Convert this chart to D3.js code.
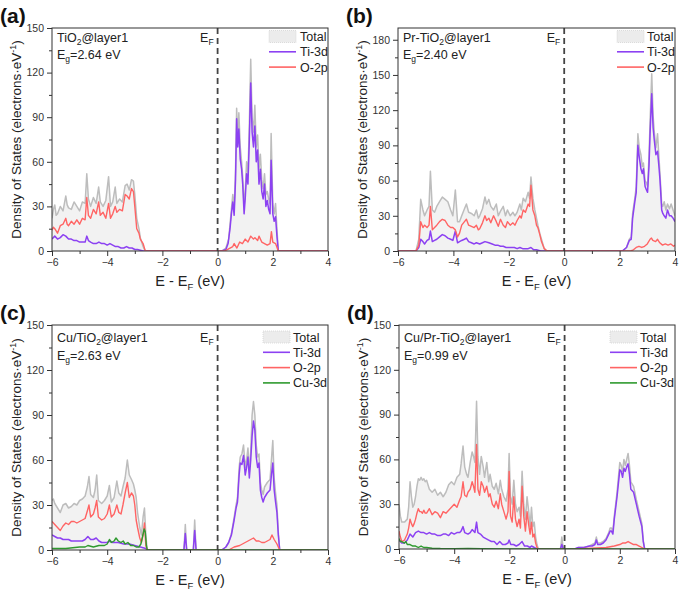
<!DOCTYPE html>
<html><head><meta charset="utf-8">
<script src="https://cdn.jsdelivr.net/npm/d3@7"></script>
<style>
body{margin:0;background:#fff;}
svg{display:block;font-family:"Liberation Sans",Arial,sans-serif;}
</style></head>
<body>
<svg id="chart" width="680" height="591"></svg>
<script>
// ---------- DATA (energy eV, DOS electrons/eV) ----------
const xTicks = [-6,-4,-2,0,2,4];
const yTicksA = [0,30,60,90,120,150];
const yTicksB = [0,30,60,90,120,150,180];
const panelLabels = ["(a)","(b)","(c)","(d)"];
const systemNames = [["TiO","2","@layer1"],["Pr-TiO","2","@layer1"],["Cu/TiO","2","@layer1"],["Cu/Pr-TiO","2","@layer1"]];
const gapValues = ["2.64","2.40","2.63","0.99"];
const seriesNames = ["Total","Ti-3d","O-2p","Cu-3d"];

const aTotal=[[-6,22],[-5.95,28],[-5.9,31],[-5.85,24],[-5.8,25],[-5.7,30],[-5.6,27],[-5.5,37],[-5.45,31],[-5.4,29],[-5.3,28],[-5.2,33],[-5.1,30],[-5.0,27],[-4.9,33],[-4.8,32],[-4.74,52],[-4.68,35],[-4.6,30],[-4.5,36],[-4.4,32],[-4.31,43],[-4.25,33],[-4.15,30],[-4.05,34],[-3.95,50],[-3.88,30],[-3.8,33],[-3.71,43],[-3.65,32],[-3.55,35],[-3.45,33],[-3.35,44],[-3.28,45],[-3.2,41],[-3.12,48],[-3.05,47],[-3.0,38],[-2.93,22],[-2.85,15],[-2.8,9],[-2.7,3],[-2.62,0],[0.15,0],[0.3,2],[0.4,8],[0.45,18],[0.5,28],[0.55,38],[0.6,28],[0.65,55],[0.69,96],[0.73,75],[0.77,93],[0.82,70],[0.87,60],[0.91,50],[0.96,30],[1.0,40],[1.05,60],[1.1,52],[1.15,85],[1.2,129],[1.25,90],[1.3,80],[1.35,98],[1.4,70],[1.45,78],[1.5,55],[1.55,65],[1.6,48],[1.65,42],[1.7,52],[1.75,38],[1.8,40],[1.85,35],[1.9,32],[1.94,79],[2.0,32],[2.05,25],[2.1,32],[2.15,15],[2.2,0],[4,0]];
const aTi=[[-6,8],[-5.9,10],[-5.8,8],[-5.7,9],[-5.6,11],[-5.5,10],[-5.4,8],[-5.3,8],[-5.2,7],[-5.1,7],[-5.0,6],[-4.9,6],[-4.8,6],[-4.74,10],[-4.68,7],[-4.6,6],[-4.5,5],[-4.4,5],[-4.3,6],[-4.2,5],[-4.1,5],[-4.0,4],[-3.9,5],[-3.8,4],[-3.7,3],[-3.6,3],[-3.5,2],[-3.4,2],[-3.3,3],[-3.2,2],[-3.1,2],[-3.0,1],[-2.9,1],[-2.8,0.5],[-2.7,0],[0.15,0],[0.3,1],[0.38,5],[0.45,15],[0.5,25],[0.55,33],[0.6,24],[0.65,48],[0.69,89],[0.73,70],[0.77,82],[0.82,62],[0.87,55],[0.91,45],[0.96,25],[1.0,35],[1.05,52],[1.1,45],[1.15,75],[1.2,113],[1.25,80],[1.3,70],[1.35,84],[1.4,60],[1.45,68],[1.5,45],[1.55,55],[1.6,40],[1.65,35],[1.7,45],[1.75,30],[1.8,34],[1.85,28],[1.9,25],[1.94,61],[2.0,25],[2.05,20],[2.1,23],[2.15,10],[2.2,0],[4,0]];
const aO=[[-6,14],[-5.95,16],[-5.9,15],[-5.8,12],[-5.7,17],[-5.6,18],[-5.5,22],[-5.45,18],[-5.4,17],[-5.3,20],[-5.2,18],[-5.1,21],[-5.0,18],[-4.9,22],[-4.8,21],[-4.74,36],[-4.68,24],[-4.6,22],[-4.5,28],[-4.4,25],[-4.31,33],[-4.25,24],[-4.15,26],[-4.05,22],[-3.95,32],[-3.88,22],[-3.8,25],[-3.71,30],[-3.65,26],[-3.55,28],[-3.45,27],[-3.35,38],[-3.28,37],[-3.2,35],[-3.12,42],[-3.05,40],[-3.0,30],[-2.93,15],[-2.85,12],[-2.8,8],[-2.7,5],[-2.62,0],[0.25,0],[0.35,1],[0.45,2],[0.55,3],[0.6,5],[0.7,2],[0.8,6],[0.9,5],[1.0,8],[1.1,6],[1.2,10],[1.3,8],[1.35,9],[1.45,7],[1.5,10],[1.6,6],[1.7,5],[1.8,4],[1.9,5],[1.95,13],[2.0,6],[2.1,5],[2.2,0],[4,0]];

const bTotal=[[-6,0],[-5.35,0],[-5.25,10],[-5.18,44],[-5.1,35],[-5.04,30],[-4.95,35],[-4.88,38],[-4.83,68],[-4.76,35],[-4.68,33],[-4.6,38],[-4.5,42],[-4.4,46],[-4.3,44],[-4.2,42],[-4.1,35],[-4.02,30],[-3.93,52],[-3.85,25],[-3.78,25],[-3.7,30],[-3.6,36],[-3.53,40],[-3.45,33],[-3.35,32],[-3.25,30],[-3.17,35],[-3.1,28],[-3.05,30],[-2.95,36],[-2.86,46],[-2.8,40],[-2.72,44],[-2.65,38],[-2.55,35],[-2.45,40],[-2.38,30],[-2.3,34],[-2.2,38],[-2.12,30],[-2.05,35],[-1.95,30],[-1.85,33],[-1.78,30],[-1.7,33],[-1.6,40],[-1.55,35],[-1.48,45],[-1.4,42],[-1.3,50],[-1.25,45],[-1.2,63],[-1.13,45],[-1.06,35],[-1.0,28],[-0.95,22],[-0.88,15],[-0.82,10],[-0.72,2],[-0.62,0],[2.1,0],[2.25,3],[2.35,10],[2.42,12],[2.47,32],[2.55,45],[2.6,55],[2.66,100],[2.71,88],[2.77,82],[2.82,72],[2.86,75],[2.92,60],[2.97,58],[3.01,55],[3.06,80],[3.1,110],[3.16,151],[3.21,115],[3.25,102],[3.31,88],[3.37,100],[3.42,80],[3.46,65],[3.52,40],[3.56,38],[3.61,42],[3.67,35],[3.73,40],[3.8,36],[3.86,40],[3.93,35],[4.0,30]];
const bTi=[[-6,0],[-5.35,0],[-5.25,3],[-5.18,10],[-5.1,8],[-5.04,6],[-4.95,9],[-4.88,10],[-4.83,17],[-4.76,8],[-4.68,9],[-4.6,10],[-4.5,12],[-4.4,14],[-4.3,13],[-4.2,11],[-4.1,10],[-4.02,9],[-3.93,17],[-3.85,7],[-3.78,8],[-3.7,9],[-3.6,10],[-3.53,11],[-3.45,8],[-3.35,7],[-3.25,6],[-3.17,7],[-3.05,6],[-2.95,7],[-2.86,8],[-2.72,7],[-2.6,6],[-2.5,5],[-2.4,5],[-2.3,4],[-2.2,4],[-2.1,3],[-2.0,3],[-1.9,3],[-1.8,3],[-1.7,2],[-1.6,3],[-1.5,2],[-1.4,2],[-1.3,2],[-1.2,3],[-1.1,1],[-1.0,1],[-0.85,0],[2.1,0],[2.25,3],[2.35,9],[2.42,10],[2.47,28],[2.55,42],[2.6,50],[2.66,90],[2.71,80],[2.77,70],[2.82,66],[2.86,70],[2.92,55],[2.97,52],[3.01,50],[3.06,72],[3.1,100],[3.16,134],[3.21,105],[3.25,95],[3.31,82],[3.37,85],[3.42,72],[3.46,60],[3.52,35],[3.56,32],[3.61,30],[3.67,28],[3.73,35],[3.8,30],[3.86,30],[3.93,28],[4.0,25]];
const bO=[[-6,0],[-5.35,0],[-5.25,5],[-5.18,25],[-5.1,20],[-5.04,22],[-4.95,20],[-4.88,22],[-4.83,38],[-4.76,18],[-4.68,20],[-4.6,22],[-4.5,25],[-4.4,27],[-4.3,26],[-4.2,22],[-4.1,20],[-4.02,20],[-3.93,18],[-3.85,12],[-3.78,15],[-3.7,22],[-3.6,25],[-3.53,27],[-3.45,22],[-3.35,21],[-3.25,20],[-3.17,22],[-3.1,18],[-3.05,19],[-2.95,24],[-2.86,30],[-2.8,26],[-2.72,28],[-2.65,24],[-2.55,30],[-2.45,25],[-2.38,21],[-2.3,27],[-2.2,22],[-2.12,20],[-2.05,25],[-1.95,22],[-1.85,24],[-1.78,22],[-1.7,26],[-1.6,30],[-1.55,28],[-1.48,35],[-1.4,33],[-1.3,40],[-1.25,38],[-1.2,56],[-1.13,35],[-1.06,30],[-1.0,22],[-0.95,20],[-0.88,14],[-0.82,8],[-0.72,2],[-0.62,0],[2.4,0],[2.5,1],[2.6,3],[2.7,4],[2.8,3],[2.9,4],[3.0,6],[3.1,10],[3.15,11],[3.2,9],[3.3,8],[3.37,10],[3.45,7],[3.55,5],[3.65,6],[3.75,5],[3.85,6],[3.95,4],[4.0,5]];

const cTotal=[[-6,33],[-5.95,34],[-5.9,31],[-5.8,28],[-5.7,25],[-5.6,30],[-5.5,31],[-5.4,28],[-5.3,29],[-5.2,31],[-5.1,30],[-5.0,33],[-4.9,34],[-4.8,36],[-4.72,42],[-4.66,49],[-4.6,37],[-4.5,35],[-4.44,40],[-4.38,50],[-4.32,33],[-4.2,31],[-4.1,33],[-4.0,36],[-3.92,43],[-3.85,32],[-3.75,35],[-3.65,46],[-3.58,38],[-3.5,36],[-3.43,42],[-3.35,48],[-3.27,60],[-3.2,50],[-3.12,47],[-3.05,44],[-3.0,40],[-2.95,35],[-2.9,25],[-2.82,15],[-2.76,10],[-2.7,22],[-2.65,28],[-2.6,10],[-2.55,0],[-1.22,0],[-1.17,17],[-1.12,0],[-0.88,0],[-0.83,20],[-0.78,0],[0.15,0],[0.3,2],[0.4,5],[0.5,11],[0.6,22],[0.67,30],[0.72,35],[0.78,55],[0.82,62],[0.88,64],[0.94,70],[1.0,55],[1.05,60],[1.1,68],[1.15,52],[1.2,66],[1.25,90],[1.3,99],[1.35,90],[1.4,70],[1.45,62],[1.5,64],[1.55,45],[1.6,40],[1.65,37],[1.7,42],[1.8,45],[1.9,47],[1.95,60],[2.0,73],[2.05,48],[2.1,38],[2.15,30],[2.2,12],[2.25,0],[4,0]];
const cTi=[[-6,10],[-5.9,9],[-5.8,8],[-5.7,8],[-5.6,7],[-5.5,7],[-5.4,7],[-5.3,6],[-5.2,6],[-5.0,6],[-4.9,6],[-4.8,7],[-4.7,9],[-4.6,7],[-4.5,7],[-4.4,8],[-4.3,6],[-4.2,5],[-4.0,5],[-3.9,6],[-3.8,5],[-3.6,5],[-3.4,4],[-3.2,4],[-3.0,3],[-2.8,2],[-2.6,1],[-2.55,0],[-1.22,0],[-1.17,11],[-1.12,0],[-0.88,0],[-0.83,13],[-0.78,0],[0.15,0],[0.3,2],[0.4,5],[0.5,10],[0.6,20],[0.67,28],[0.72,32],[0.78,50],[0.82,58],[0.88,57],[0.94,63],[1.0,50],[1.05,55],[1.1,62],[1.15,48],[1.2,60],[1.25,76],[1.3,86],[1.35,80],[1.4,62],[1.45,55],[1.5,58],[1.55,40],[1.6,35],[1.65,32],[1.7,35],[1.8,38],[1.9,40],[1.95,50],[2.0,58],[2.05,40],[2.1,32],[2.15,25],[2.2,10],[2.25,0],[4,0]];
const cO=[[-6,19],[-5.9,17],[-5.8,15],[-5.7,13],[-5.6,16],[-5.5,18],[-5.4,17],[-5.3,19],[-5.2,19],[-5.1,18],[-5.0,19],[-4.9,20],[-4.8,21],[-4.72,26],[-4.66,30],[-4.6,22],[-4.5,24],[-4.44,28],[-4.38,33],[-4.32,22],[-4.2,20],[-4.1,21],[-4.0,24],[-3.92,30],[-3.85,22],[-3.75,24],[-3.65,30],[-3.58,25],[-3.5,24],[-3.43,30],[-3.35,38],[-3.27,45],[-3.2,35],[-3.12,38],[-3.05,36],[-3.0,30],[-2.95,20],[-2.9,15],[-2.82,8],[-2.76,5],[-2.7,10],[-2.65,18],[-2.6,3],[-2.55,0],[0.4,0],[0.6,2],[0.8,3],[1.0,5],[1.1,6],[1.2,7],[1.3,8],[1.4,6],[1.5,6],[1.6,5],[1.7,5],[1.8,6],[1.9,7],[1.97,10],[2.05,7],[2.15,4],[2.25,0],[4,0]];
const cCu=[[-6,1],[-5.5,1],[-5.0,2],[-4.8,2],[-4.7,3],[-4.5,2],[-4.3,3],[-4.1,3],[-4.0,4],[-3.92,7],[-3.85,5],[-3.75,6],[-3.68,8],[-3.6,6],[-3.5,5],[-3.42,6],[-3.35,4],[-3.25,5],[-3.15,3],[-3.05,3],[-2.95,2],[-2.85,2],[-2.78,4],[-2.72,9],[-2.66,14],[-2.62,12],[-2.58,3],[-2.55,0],[4,0]];

const dTotal=[[-6,30],[-5.95,22],[-5.9,18],[-5.8,18],[-5.7,20],[-5.65,28],[-5.6,45],[-5.55,35],[-5.5,28],[-5.45,30],[-5.4,35],[-5.35,42],[-5.3,47],[-5.25,46],[-5.2,48],[-5.15,46],[-5.1,47],[-5.05,45],[-5.0,46],[-4.9,40],[-4.8,38],[-4.7,40],[-4.6,36],[-4.5,38],[-4.4,35],[-4.3,38],[-4.2,43],[-4.1,45],[-4.0,43],[-3.9,48],[-3.8,50],[-3.75,57],[-3.68,69],[-3.62,55],[-3.55,50],[-3.5,48],[-3.42,58],[-3.35,65],[-3.3,62],[-3.25,58],[-3.19,99],[-3.14,62],[-3.08,50],[-3.02,62],[-2.95,55],[-2.9,48],[-2.82,58],[-2.75,45],[-2.7,50],[-2.62,42],[-2.55,40],[-2.48,44],[-2.4,37],[-2.33,46],[-2.28,40],[-2.2,35],[-2.12,32],[-2.05,40],[-2.01,64],[-1.96,35],[-1.9,30],[-1.84,46],[-1.78,30],[-1.72,25],[-1.65,28],[-1.6,22],[-1.54,52],[-1.48,30],[-1.42,20],[-1.36,35],[-1.3,25],[-1.25,15],[-1.2,28],[-1.15,15],[-1.1,18],[-1.05,8],[-1.0,3],[-0.95,0],[-0.15,0],[-0.1,8],[-0.05,0],[0.4,0],[0.5,1],[0.7,1],[0.9,2],[1.0,3],[1.1,4],[1.15,8],[1.2,4],[1.3,4],[1.4,5],[1.5,7],[1.6,11],[1.65,14],[1.7,14],[1.75,12],[1.8,22],[1.9,38],[2.0,58],[2.05,56],[2.1,52],[2.15,60],[2.2,56],[2.25,60],[2.3,64],[2.35,56],[2.4,45],[2.5,42],[2.6,33],[2.7,25],[2.8,17],[2.85,6],[2.9,0],[4,0]];
const dTi=[[-6,6],[-5.9,4],[-5.8,4],[-5.7,6],[-5.6,10],[-5.5,8],[-5.4,11],[-5.3,12],[-5.2,11],[-5.1,11],[-5.0,10],[-4.9,11],[-4.8,10],[-4.7,10],[-4.6,9],[-4.5,9],[-4.4,10],[-4.3,10],[-4.2,9],[-4.1,11],[-4.0,10],[-3.9,11],[-3.8,11],[-3.75,12],[-3.68,15],[-3.62,11],[-3.5,10],[-3.42,11],[-3.35,13],[-3.25,11],[-3.19,18],[-3.14,11],[-3.05,10],[-2.95,8],[-2.85,7],[-2.75,6],[-2.65,5],[-2.55,5],[-2.45,3],[-2.35,5],[-2.25,3],[-2.15,3],[-2.05,4],[-2.01,6],[-1.95,3],[-1.85,3],[-1.75,2],[-1.65,3],[-1.54,5],[-1.45,2],[-1.35,2],[-1.25,1],[-1.2,2],[-1.1,1],[-1.0,0],[-0.15,0],[-0.1,3],[-0.05,0],[0.35,0],[0.5,1],[0.7,1],[0.9,2],[1.0,2],[1.1,3],[1.15,6],[1.2,3],[1.3,3],[1.4,4],[1.5,6],[1.6,10],[1.65,12],[1.7,12],[1.75,10],[1.8,20],[1.9,35],[2.0,53],[2.05,52],[2.1,48],[2.15,54],[2.2,52],[2.25,55],[2.3,57],[2.35,50],[2.4,40],[2.5,38],[2.6,30],[2.7,22],[2.8,15],[2.85,5],[2.9,0],[4,0]];
const dO=[[-6,12],[-5.95,8],[-5.9,5],[-5.8,6],[-5.7,10],[-5.65,14],[-5.6,20],[-5.55,17],[-5.5,15],[-5.45,17],[-5.4,20],[-5.35,24],[-5.3,27],[-5.25,25],[-5.2,25],[-5.15,24],[-5.1,26],[-5.05,24],[-5.0,24],[-4.9,27],[-4.8,23],[-4.7,25],[-4.6,24],[-4.5,21],[-4.4,25],[-4.3,24],[-4.2,26],[-4.1,28],[-4.0,30],[-3.9,28],[-3.8,33],[-3.75,35],[-3.68,45],[-3.62,36],[-3.55,35],[-3.5,38],[-3.42,40],[-3.35,45],[-3.3,42],[-3.25,38],[-3.19,70],[-3.14,40],[-3.08,36],[-3.02,45],[-2.95,42],[-2.9,38],[-2.82,42],[-2.75,35],[-2.7,37],[-2.62,30],[-2.55,28],[-2.48,32],[-2.4,27],[-2.33,37],[-2.28,30],[-2.2,25],[-2.12,20],[-2.05,25],[-2.01,52],[-1.96,22],[-1.9,18],[-1.84,35],[-1.78,20],[-1.72,15],[-1.65,20],[-1.6,14],[-1.54,42],[-1.48,22],[-1.42,12],[-1.36,25],[-1.3,16],[-1.25,10],[-1.2,18],[-1.15,8],[-1.1,10],[-1.05,4],[-1.0,1],[-0.95,0],[0.4,0],[1.0,0.5],[1.5,1],[1.8,2],[2.0,3],[2.1,4],[2.2,4],[2.3,5],[2.4,4],[2.5,3],[2.6,3],[2.7,2],[2.8,1],[2.9,0],[4,0]];
const dCu=[[-6,7],[-5.95,5],[-5.9,5],[-5.8,4],[-5.75,5],[-5.7,3],[-5.6,3],[-5.5,2],[-5.4,2],[-5.3,1],[-5.2,2],[-5.1,1],[-5.0,1],[-4.8,0.5],[-4.5,0.3],[-4.0,0.2],[-3.5,0.3],[-3.0,0.2],[-2.0,0.1],[-1.0,0],[4,0]];

// ---------- LAYOUT ----------
const colors = {total:"#bdbdbd", fill:"#f2f2f2", ti:"#8c41f2", o:"#ff6464", cu:"#2f9a2f"};
const panels = [
  {box:{l:52,r:328,t:28,b:251}, yMax:150, yTicks:yTicksA, total:aTotal, ti:aTi, o:aO, cu:null, textDy:[9,26], legDy:8.5, legX:[59,28]},
  {box:{l:398,r:675,t:28,b:251}, yMax:190, yTicks:yTicksB, total:bTotal, ti:bTi, o:bO, cu:null, textDy:[9,26], legDy:8.5, legX:[58,28]},
  {box:{l:52,r:328,t:325,b:550}, yMax:150, yTicks:yTicksA, total:cTotal, ti:cTi, o:cO, cu:cCu, textDy:[12,30], legDy:12, legX:[65,35]},
  {box:{l:399,r:675,t:325,b:549}, yMax:150, yTicks:yTicksA, total:dTotal, ti:dTi, o:dO, cu:dCu, textDy:[12,30], legDy:12, legX:[65,35]}
];

const svg = d3.select("#chart");
const defs = svg.append("defs");

panels.forEach((p,i)=>{
  const B=p.box;
  const x=d3.scaleLinear().domain([-6,4]).range([B.l,B.r]);
  const y=d3.scaleLinear().domain([0,p.yMax]).range([B.b,B.t]);
  const g=svg.append("g");
  const cid="clip"+i;
  defs.append("clipPath").attr("id",cid).append("rect")
    .attr("x",B.l).attr("y",B.t).attr("width",B.r-B.l).attr("height",B.b-B.t);
  const plot=g.append("g").attr("clip-path",`url(#${cid})`);

  const area=d3.area().x(d=>x(d[0])).y0(y(0)).y1(d=>y(d[1]));
  const line=d3.line().x(d=>x(d[0])).y(d=>y(d[1]));
  plot.append("path").datum(p.total).attr("d",area).attr("fill",colors.fill);
  plot.append("path").datum(p.total).attr("d",line).attr("fill","none").attr("stroke",colors.total).attr("stroke-width",1.5).attr("stroke-linejoin","round");
  plot.append("path").datum(p.ti).attr("d",line).attr("fill","none").attr("stroke",colors.ti).attr("stroke-width",1.5).attr("stroke-linejoin","round");
  plot.append("path").datum(p.o).attr("d",line).attr("fill","none").attr("stroke",colors.o).attr("stroke-width",1.4).attr("stroke-linejoin","round");
  if(p.cu) plot.append("path").datum(p.cu).attr("d",line).attr("fill","none").attr("stroke",colors.cu).attr("stroke-width",1.4).attr("stroke-linejoin","round");

  // Fermi level
  g.append("line").attr("x1",x(0)).attr("x2",x(0)).attr("y1",B.t).attr("y2",B.b)
    .attr("stroke","#444").attr("stroke-width",1.8).attr("stroke-dasharray","6,4");

  // axes
  const xAxis=d3.axisBottom(x).tickValues(xTicks).tickSize(5).tickPadding(3).tickFormat(d3.format("d"));
  const xMinor=d3.axisBottom(x).tickValues([-5,-3,-1,1,3]).tickSize(3).tickFormat("");
  const yAxis=d3.axisLeft(y).tickValues(p.yTicks).tickSize(5).tickPadding(3).tickFormat(d3.format("d"));
  const yMinorVals=p.yTicks.slice(0,-1).map(v=>v+15);
  const yMinor=d3.axisLeft(y).tickValues(yMinorVals).tickSize(3).tickFormat("");
  [[xAxis,`translate(0,${B.b})`],[xMinor,`translate(0,${B.b})`],[yAxis,`translate(${B.l},0)`],[yMinor,`translate(${B.l},0)`]].forEach(([ax,tr])=>{
    const a=g.append("g").attr("transform",tr).call(ax);
    a.select(".domain").remove();
    a.selectAll("line").attr("stroke","#333");
    a.selectAll("text").attr("fill","#333").style("font-size","10.5px").style("font-family","'Liberation Sans',Arial,sans-serif");
  });
  // frame
  g.append("rect").attr("x",B.l).attr("y",B.t).attr("width",B.r-B.l).attr("height",B.b-B.t)
    .attr("fill","none").attr("stroke","#333").attr("stroke-width",1);

  // titles
  const xt=g.append("text").attr("x",(B.l+B.r)/2).attr("y",B.b+35).attr("text-anchor","middle")
    .style("font-size","14.5px").attr("fill","#222");
  xt.append("tspan").text("E - E");
  xt.append("tspan").text("F").attr("dy",4).style("font-size","9.5px");
  xt.append("tspan").text(" (eV)").attr("dy",-4);
  const ytx=B.l-31, yty=(B.t+B.b)/2;
  const yt=g.append("text").attr("transform",`translate(${ytx},${yty}) rotate(-90)`).attr("text-anchor","middle")
    .style("font-size","13.5px").attr("fill","#222");
  yt.append("tspan").text("Density of States (electrons·eV");
  yt.append("tspan").text("-1").attr("dy",-5).style("font-size","9px");
  yt.append("tspan").text(")").attr("dy",5);

  // panel label
  g.append("text").attr("x",B.l-52).attr("y",B.t-5).text(panelLabels[i])
    .style("font-size","21px").style("font-weight","bold").attr("fill","#111");

  // annotations
  const nm=systemNames[i];
  const t1=g.append("text").attr("x",B.l+5).attr("y",B.t+p.textDy[0]+4.5).style("font-size","12.5px").attr("fill","#222");
  t1.append("tspan").text(nm[0]);
  t1.append("tspan").text(nm[1]).attr("dy",3).style("font-size","8.5px");
  t1.append("tspan").text(nm[2]).attr("dy",-3);
  const t2=g.append("text").attr("x",B.l+5).attr("y",B.t+p.textDy[1]+4.5).style("font-size","12.5px").attr("fill","#222");
  t2.append("tspan").text("E");
  t2.append("tspan").text("g").attr("dy",3).style("font-size","8.5px");
  t2.append("tspan").text("="+gapValues[i]+" eV").attr("dy",-3);

  // E_F label
  const ef=g.append("text").attr("x",x(0)-4).attr("y",B.t+p.textDy[0]+4.5).attr("text-anchor","end").style("font-size","12.5px").attr("fill","#222");
  ef.append("tspan").text("E");
  ef.append("tspan").text("F").attr("dy",3).style("font-size","8.5px");

  // legend
  const legItems=[{n:seriesNames[0],k:"total"},{n:seriesNames[1],k:"ti"},{n:seriesNames[2],k:"o"}];
  if(p.cu) legItems.push({n:seriesNames[3],k:"cu"});
  legItems.forEach((it,j)=>{
    const ly=B.t+p.legDy+j*15.3;
    const sx=B.r-p.legX[0];
    if(it.k==="total"){
      g.append("rect").attr("x",sx).attr("y",ly-6).attr("width",27).attr("height",12)
        .attr("fill","#ececec").attr("stroke","#d4d4d4").attr("stroke-width",0.8).attr("stroke-dasharray","1,1");
    } else {
      g.append("line").attr("x1",sx).attr("x2",sx+27).attr("y1",ly).attr("y2",ly)
        .attr("stroke",colors[it.k]).attr("stroke-width",1.6);
    }
    g.append("text").attr("x",B.r-p.legX[1]).attr("y",ly+4.5).text(it.n).style("font-size","12.5px").attr("fill","#222");
  });
});
</script>
</body></html>
